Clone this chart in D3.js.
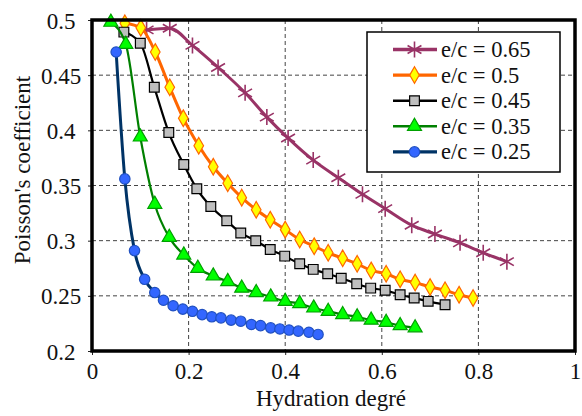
<!DOCTYPE html>
<html><head><meta charset="utf-8">
<script src="https://cdn.jsdelivr.net/npm/d3@7"></script>
<style>body{margin:0;background:#fff}svg{display:block}</style>
</head><body><svg id="c" width="582" height="416"></svg>
<script>
const xTicks = [0, 0.2, 0.4, 0.6, 0.8, 1];
const yTicks = [0.2, 0.25, 0.3, 0.35, 0.4, 0.45, 0.5];
const seriesNames = ["e/c = 0.65", "e/c = 0.5", "e/c = 0.45", "e/c = 0.35", "e/c = 0.25"];

const ec065x = [0.113,0.161,0.208,0.261,0.317,0.362,0.406,0.458,0.510,0.560,0.607,0.662,0.710,0.762,0.810,0.859];
const ec065y = [0.491,0.4925,0.477,0.457,0.434,0.412,0.393,0.373,0.357,0.342,0.329,0.314,0.306,0.298,0.289,0.281];

const ec05x = [0.068,0.101,0.131,0.161,0.189,0.221,0.251,0.281,0.310,0.340,0.369,0.400,0.430,0.460,0.489,0.519,0.549,0.578,0.609,0.638,0.669,0.700,0.731,0.760,0.789];
const ec05y = [0.497,0.493,0.471,0.439,0.411,0.386,0.367,0.352,0.339,0.328,0.319,0.310,0.301,0.295,0.289,0.284,0.279,0.273,0.270,0.265,0.262,0.258,0.255,0.251,0.248];

const ec045x = [0.066,0.100,0.129,0.159,0.190,0.217,0.246,0.279,0.308,0.339,0.369,0.399,0.430,0.458,0.488,0.516,0.548,0.577,0.607,0.638,0.667,0.696,0.731];
const ec045y = [0.489,0.479,0.439,0.398,0.369,0.347,0.331,0.318,0.307,0.300,0.292,0.286,0.279,0.274,0.270,0.266,0.261,0.257,0.255,0.251,0.248,0.245,0.242];

const ec035x = [0.039,0.070,0.100,0.130,0.160,0.190,0.219,0.251,0.281,0.310,0.340,0.370,0.400,0.430,0.459,0.489,0.519,0.549,0.578,0.609,0.638,0.669];
const ec035y = [0.498,0.478,0.394,0.333,0.303,0.287,0.275,0.268,0.263,0.257,0.253,0.249,0.245,0.243,0.239,0.236,0.233,0.231,0.228,0.226,0.223,0.221];

const ec025x = [0.050,0.068,0.088,0.109,0.130,0.148,0.168,0.188,0.208,0.228,0.248,0.267,0.288,0.308,0.330,0.349,0.370,0.389,0.408,0.427,0.449,0.468];
const ec025y = [0.471,0.356,0.291,0.265,0.253,0.246,0.241,0.238,0.236,0.233,0.231,0.230,0.228,0.227,0.224,0.223,0.221,0.220,0.219,0.218,0.217,0.215];

const series = [
  {name: seriesNames[0], xs: ec065x, ys: ec065y, line: "#993366", lw: 3, marker: "star", fill: "none", stroke: "#993366"},
  {name: seriesNames[1], xs: ec05x,  ys: ec05y,  line: "#FF6600", lw: 3, marker: "diamond", fill: "#FFFF00", stroke: "#FF6600"},
  {name: seriesNames[2], xs: ec045x, ys: ec045y, line: "#000000", lw: 2.2, marker: "square", fill: "#BFBFBF", stroke: "#000000"},
  {name: seriesNames[3], xs: ec035x, ys: ec035y, line: "#008000", lw: 2.2, marker: "triangle", fill: "#00FF00", stroke: "#00A000"},
  {name: seriesNames[4], xs: ec025x, ys: ec025y, line: "#003366", lw: 3, marker: "circle", fill: "#3366FF", stroke: "#2050C0"}
];

const svg = d3.select("#c");
const L = 92, R = 575, T = 20, B = 351;
const x = d3.scaleLinear().domain([0, 1]).range([L, R]);
const y = d3.scaleLinear().domain([0.2, 0.5]).range([B, T]);
const FONT = "Liberation Serif";

// grid
const g = svg.append("g");
g.selectAll(".gx").data(xTicks.slice(1, -1)).enter().append("line")
  .attr("x1", d => x(d)).attr("x2", d => x(d)).attr("y1", T).attr("y2", B)
  .attr("stroke", "#444").attr("stroke-width", 1).attr("stroke-dasharray", "4,3");
g.selectAll(".gy").data(yTicks.slice(1, -1)).enter().append("line")
  .attr("y1", d => y(d)).attr("y2", d => y(d)).attr("x1", L).attr("x2", R)
  .attr("stroke", "#444").attr("stroke-width", 1).attr("stroke-dasharray", "4,3");

// axes
const ax = svg.append("g").attr("transform", `translate(0,${B})`)
  .call(d3.axisBottom(x).tickValues(xTicks).tickFormat(d3.format("")).tickSize(4).tickPadding(8));
const ay = svg.append("g").attr("transform", `translate(${L},0)`)
  .call(d3.axisLeft(y).tickValues(yTicks).tickFormat(d3.format("")).tickSize(4).tickPadding(6));
[ax, ay].forEach(a => {
  a.select(".domain").remove();
  a.selectAll("line").attr("stroke", "#222");
  a.selectAll("text").style("font-family", FONT).style("font-size", "23px").attr("fill", "#111");
});
ay.selectAll("text").attr("text-anchor", "middle").attr("x", -31).attr("dy", "0.35em");

// lines
const lineGen = d3.line().curve(d3.curveMonotoneX);
const sym = {
  diamond: d3.symbol().type(d3.symbolDiamond).size(80),
  square: d3.symbol().type(d3.symbolSquare).size(95),
  triangle: d3.symbol().type(d3.symbolTriangle).size(85),
  circle: d3.symbol().type(d3.symbolCircle).size(85)
};
function drawMarker(sel, s, cx, cy) {
  if (s.marker === "star") {
    const r = 8, a = Math.PI / 6;
    const p = `M${cx},${cy - r}L${cx},${cy + r}M${cx - r * Math.cos(a)},${cy - r * Math.sin(a)}L${cx + r * Math.cos(a)},${cy + r * Math.sin(a)}M${cx - r * Math.cos(a)},${cy + r * Math.sin(a)}L${cx + r * Math.cos(a)},${cy - r * Math.sin(a)}`;
    sel.append("path").attr("d", p).attr("stroke", s.stroke).attr("stroke-width", 1.6).attr("fill", "none");
  } else {
    sel.append("path").attr("d", sym[s.marker]())
      .attr("transform", `translate(${cx},${cy})`)
      .attr("fill", s.fill).attr("stroke", s.stroke).attr("stroke-width", 1.2);
  }
}
const plot = svg.append("g");
series.forEach(s => {
  const pts = s.xs.map((v, i) => [x(v), y(s.ys[i])]);
  plot.append("path").attr("d", lineGen(pts)).attr("fill", "none")
    .attr("stroke", s.line).attr("stroke-width", s.lw);
  const mg = plot.append("g");
  pts.forEach(p => drawMarker(mg, s, p[0], p[1]));
});

// frame
svg.append("rect").attr("x", L).attr("y", T).attr("width", R - L).attr("height", B - T)
  .attr("fill", "none").attr("stroke", "#000").attr("stroke-width", 3.5);

// legend
const lg = svg.append("g");
lg.append("rect").attr("x", 367).attr("y", 32).attr("width", 193).attr("height", 140)
  .attr("fill", "#fff").attr("stroke", "#000").attr("stroke-width", 1.5);
series.forEach((s, i) => {
  const ry = 49.5 + i * 25.6;
  lg.append("line").attr("x1", 393).attr("x2", 437).attr("y1", ry).attr("y2", ry)
    .attr("stroke", s.line).attr("stroke-width", s.lw + 0.3);
  drawMarker(lg, s, 414.5, ry);
  lg.append("text").attr("x", 441).attr("y", ry + 7.5).text(s.name)
    .style("font-family", FONT).style("font-size", "22.5px").attr("fill", "#111");
});

// titles
svg.append("text").attr("x", 331).attr("y", 406).attr("text-anchor", "middle")
  .style("font-family", FONT).style("font-size", "23px").attr("fill", "#111").text("Hydration degré");
svg.append("text").attr("transform", "translate(30,170) rotate(-90)").attr("text-anchor", "middle")
  .style("font-family", FONT).style("font-size", "23px").attr("fill", "#111").text("Poisson's coefficient");
</script></body></html>
